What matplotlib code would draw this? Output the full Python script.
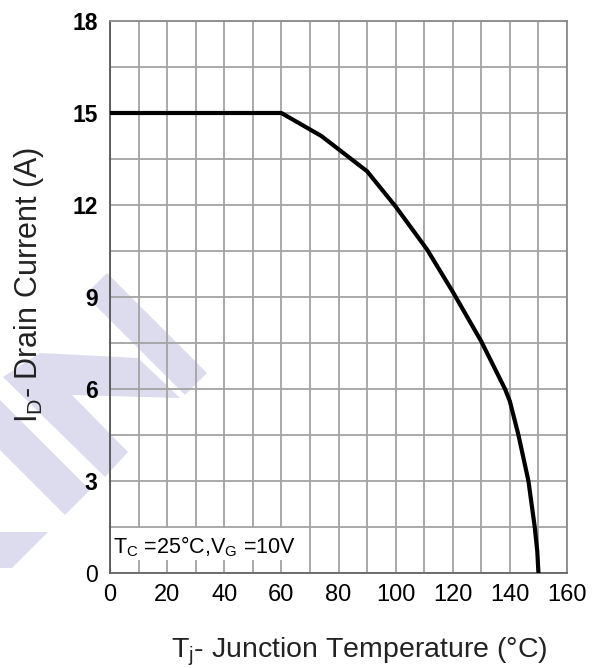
import matplotlib
matplotlib.use('Agg')
import matplotlib.pyplot as plt
from matplotlib.patches import Polygon, Rectangle
import numpy as np

plt.rcParams['font.family'] = ['Liberation Sans', 'DejaVu Sans']
plt.rcParams['mathtext.fontset'] = 'custom'
plt.rcParams['mathtext.rm'] = 'Liberation Sans'

# derating curve
temp = [0, 60, 74, 90, 100, 111, 120, 130, 138.3, 140, 143, 146.5, 148.7, 149.6, 150]
current = [15, 15, 14.25, 13.1, 11.95, 10.55, 9.17, 7.55, 6.0, 5.6, 4.5, 3.0, 1.5, 0.7, 0]

x_ticks = [0, 20, 40, 60, 80, 100, 120, 140, 160]
y_ticks = [0, 3, 6, 9, 12, 15, 18]

W, H = 601, 668
fig = plt.figure(figsize=(W / 100, H / 100), dpi=100)

# faint watermark logo behind the chart (pixel coords of the picture)
wm = [
    [(85, 295), (107, 273), (207, 373), (185, 395)],
    [(3, 377), (40, 353), (138, 358), (180, 398), (72, 395), (128, 452), (105, 477)],
    [(0, 400), (90, 490), (65, 515), (0, 450)],
    [(0, 532), (48, 532), (12, 568), (0, 568)],
]
for pts in wm:
    poly = Polygon([(x / W, 1 - y / H) for x, y in pts], closed=True,
                   transform=fig.transFigure, facecolor='#dcdcee',
                   edgecolor='none', zorder=0)
    fig.patches.append(poly)

ax = fig.add_axes([110 / W, 1 - 573 / H, 457 / W, 552 / H])
ax.set_facecolor('none')
ax.set_zorder(1)

ax.plot(temp, current, color='black', lw=3, zorder=3, solid_joinstyle='round')

ax.set_xlim(0, 160)
ax.set_ylim(0, 18)
ax.set_xticks(x_ticks)
ax.set_yticks(y_ticks)
ax.set_xticks(np.arange(0, 161, 10), minor=True)
ax.set_yticks(np.arange(0, 18.1, 1.5), minor=True)
ax.grid(True, which='both', color='#a3a3a3', lw=1.3)
ax.set_axisbelow(True)
ax.tick_params(which='both', length=0)
ax.tick_params(axis='x', labelsize=17, pad=8)
ax.tick_params(axis='y', labelsize=16.5, pad=9)
for lab in ax.get_yticklabels():
    lab.set_fontweight('bold')
ax.get_yticklabels()[0].set_fontweight('normal')

ax.spines['left'].set_color('#555555')
ax.spines['bottom'].set_color('#666666')
ax.spines['top'].set_color('#8a8a8a')
ax.spines['right'].set_color('#8a8a8a')
for s in ax.spines.values():
    s.set_linewidth(1.3)

# white label box hiding the grid at the bottom left
ax.add_patch(Rectangle((0.3, 0.43), 69.5, 1.05, facecolor='white',
                       edgecolor='none', zorder=2))
ax.text(1.0, 0.85, r'T$_\mathregular{C}$ =25°C,V$_\mathregular{G}$ =10V',
        fontsize=15.5, va='center', ha='left', zorder=4)

fig.text(359 / W, 1 - 657 / H,
         r'T$_\mathregular{j}$- Junction Temperature (°C)',
         fontsize=20.5, ha='center', va='baseline', color='#222222')
fig.text(29 / W, 1 - 285 / H,
         r'I$_\mathregular{D}$- Drain Current (A)',
         fontsize=22, ha='center', va='center', rotation=90, color='#222222')

fig.savefig('out.png', dpi=100)
